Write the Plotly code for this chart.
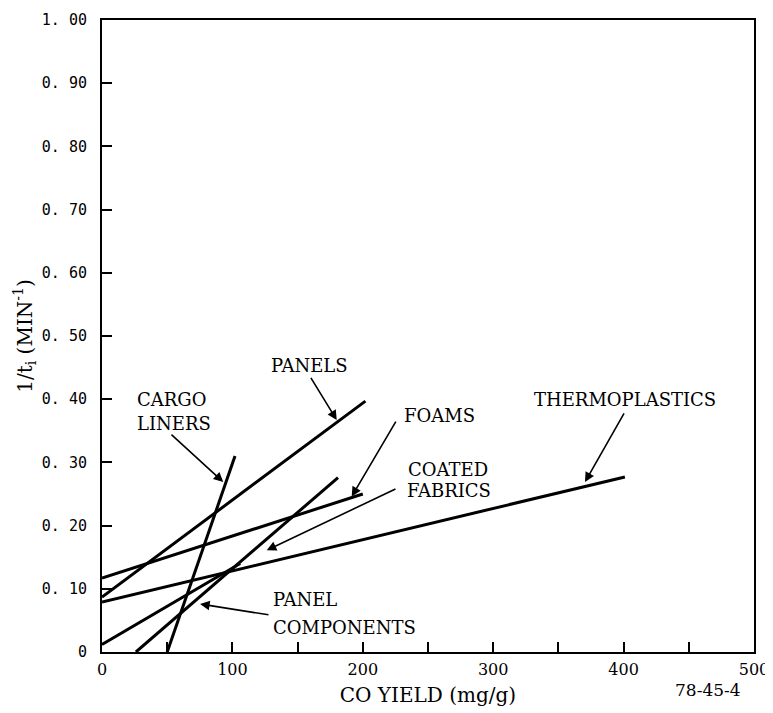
import plotly.graph_objects as go

# ---- data ----
series_names = ["CARGO LINERS", "PANELS", "FOAMS", "THERMOPLASTICS", "COATED FABRICS", "PANEL COMPONENTS"]
cargo_x = [50, 102]
cargo_y = [0.0, 0.31]
panels_x = [0, 202]
panels_y = [0.087, 0.397]
foams_x = [0, 200]
foams_y = [0.117, 0.25]
thermo_x = [0, 401]
thermo_y = [0.079, 0.277]
coated_x = [26, 181]
coated_y = [0.0, 0.276]
panelcomp_x = [0, 106]
panelcomp_y = [0.012, 0.14]

x_tickvals = [0, 100, 200, 300, 400, 500]
x_ticktext = ["0", "100", "200", "300", "400", "500"]
y_tickvals = [0, 0.1, 0.2, 0.3, 0.4, 0.5, 0.6, 0.7, 0.8, 0.9, 1.0]
y_ticktext = ["0", "0. 10", "0. 20", "0. 30", "0. 40", "0. 50", "0. 60", "0. 70", "0. 80", "0. 90", "1. 00"]

xs = [cargo_x, panels_x, foams_x, thermo_x, coated_x, panelcomp_x]
ys = [cargo_y, panels_y, foams_y, thermo_y, coated_y, panelcomp_y]

SERIF = "DejaVu Serif"
MONO = "DejaVu Sans Mono"

fig = go.Figure()
for name, x, y in zip(series_names, xs, ys):
    fig.add_trace(go.Scatter(x=x, y=y, mode="lines", name=name,
                             line=dict(color="black", width=3), showlegend=False))

# leader arrows: (tip_x, tip_y, tail_x, tail_y) in data units
arrows = [
    (180, 0.367, 159.5, 0.436),   # panels
    (93, 0.269, 52.1, 0.346),     # cargo liners
    (191.5, 0.246, 226, 0.367),   # foams
    (126.3, 0.161, 226.2, 0.259), # coated fabrics
    (370.4, 0.269, 401, 0.380),   # thermoplastics
    (75.2, 0.076, 128.8, 0.0585), # panel components
]
for tx, ty, ax, ay in arrows:
    fig.add_annotation(x=tx, y=ty, ax=ax, ay=ay, xref="x", yref="y", axref="x", ayref="y",
                       text="", showarrow=True, arrowhead=2, arrowsize=1.2, arrowwidth=1.6,
                       arrowcolor="black")

# text labels: (text, left x, center y)
labels = [
    ("PANELS", 128.0, 0.454),
    ("CARGO", 25.3, 0.399),
    ("LINERS", 25.3, 0.362),
    ("FOAMS", 229.8, 0.375),
    ("COATED", 233.5, 0.288),
    ("FABRICS", 232.5, 0.256),
    ("THERMOPLASTICS", 329.5, 0.400),
    ("PANEL", 129.6, 0.083),
    ("COMPONENTS", 129.6, 0.039),
]
for t, x, y in labels:
    fig.add_annotation(x=x, y=y, xref="x", yref="y", text=t, showarrow=False,
                       xanchor="left", yanchor="middle",
                       font=dict(family=SERIF, size=18, color="black"))

fig.add_annotation(x=0.929, y=-0.060, xref="paper", yref="paper", text="78-45-4", showarrow=False,
                   xanchor="center", yanchor="middle",
                   font=dict(family=SERIF, size=17, color="black"))

# the page body adds an 8px offset, so the figure is sized and margined to compensate
fig.update_layout(
    width=765, height=705,
    margin=dict(l=94, r=19, t=12, b=61),
    paper_bgcolor="white", plot_bgcolor="white",
    xaxis=dict(range=[0, 500], tickvals=x_tickvals, ticktext=x_ticktext, automargin=False,
               ticks="inside", ticklen=10, tickwidth=2, tickcolor="black",
               minor=dict(dtick=50, ticks="inside", ticklen=10, tickwidth=2, tickcolor="black"),
               showline=True, linecolor="black", linewidth=2, mirror=True,
               showgrid=False, zeroline=False,
               tickfont=dict(family=SERIF, size=16, color="black"),
               ticklabelstandoff=2,
               title=dict(text="CO YIELD (mg/g)", font=dict(family=SERIF, size=20, color="black"),
                          standoff=10)),
    yaxis=dict(range=[0, 1.0], tickvals=y_tickvals, ticktext=y_ticktext, automargin=False,
               ticks="inside", ticklen=10, tickwidth=2, tickcolor="black",
               showline=True, linecolor="black", linewidth=2, mirror=True,
               showgrid=False, zeroline=False,
               tickfont=dict(family=MONO, size=15, color="black"),
               ticklabelstandoff=10,
               title=dict(text="1/t<sub>i</sub> (MIN<sup>-1</sup>)",
                          font=dict(family=SERIF, size=20, color="black"), standoff=4)),
)

fig.write_html("out.html")
